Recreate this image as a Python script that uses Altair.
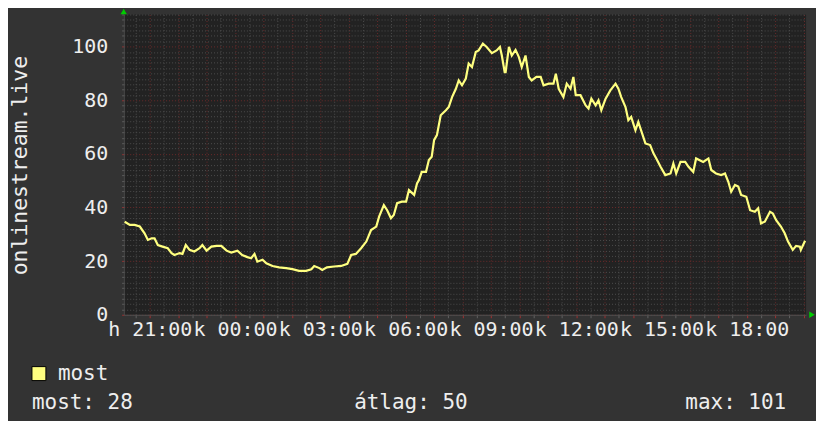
import altair as alt
import pandas as pd

# elapsed minutes since the start of the window (Monday 20:05) and viewer counts
minutes = [2, 13, 23, 34, 44, 51, 59, 65, 72, 82, 93, 101, 107, 118, 124, 131, 139, 149, 160, 166,
           175, 185, 196, 206, 217, 227, 240, 250, 261, 269, 276, 282, 293, 301, 314, 328, 343, 356, 370, 385,
           396, 402, 413, 419, 429, 444, 459, 472, 480, 490, 501, 512, 522, 533, 539, 549, 556, 564, 570, 577,
           587, 596, 602, 613, 619,
           623, 629, 638, 644, 650, 655, 661, 669, 680, 686, 693, 701, 707, 714, 722, 728, 735, 743, 749, 758,
           766, 777, 787, 794, 798, 804, 806, 813, 819, 827, 834, 840, 848, 855, 861, 871, 880, 886, 897, 907,
           912, 918, 928, 935, 943, 949, 954, 964, 975, 981, 987, 996, 1002, 1008, 1017, 1027, 1038, 1044, 1050, 1059,
           1065, 1071, 1080, 1086, 1093, 1101, 1111, 1118, 1124, 1133, 1143, 1154, 1160, 1166, 1175, 1185, 1192, 1202, 1208, 1223,
           1234, 1240, 1250, 1261, 1269, 1276, 1282, 1290, 1297, 1303, 1314, 1322, 1332, 1339, 1345, 1353, 1364, 1370, 1377, 1387,
           1395, 1402, 1412, 1419, 1427, 1429, 1438]
values = [34.7, 33.5, 33.5, 32.9, 30.4, 27.9, 28.5, 28.5, 26, 25.4, 24.8, 23, 22.3, 23, 22.7, 26, 24.2, 23.6, 24.8, 26,
          23.9, 25.4, 25.7, 25.7, 23.9, 23.2, 23.9, 22.3, 21.5, 21.1, 22.7, 19.8, 20.5, 19.2, 18.2, 17.7, 17.4, 17, 16.4, 16.4,
          17, 18.2, 17.4, 16.7, 17.7, 18, 18.2, 19, 22.3, 22.7, 24.8, 27.3, 31.6, 32.9, 36.6, 40.9, 39, 36, 37.2, 41.6,
          42.2, 42.2, 46.5, 44.7, 49,
          50.2, 53.3, 53.3, 57.7, 58.9, 65.1, 67, 74.4, 76.3, 77.5, 81.2, 84.3, 87.4, 85.6, 88.1, 93.7, 92.4, 98, 98.6, 101.1,
          99.9, 97.6, 98.6, 99.9, 96.7, 90.5, 90.5, 99.9, 96.7, 98.8, 96.1, 92.4, 96.7, 88.7, 87.4, 88.7, 88.7, 85.6, 86.2, 86.2,
          89.9, 84.3, 81.2, 86.2, 84.3, 88.7, 81.9, 81.9, 78.1, 76.9, 80.6, 78.1, 80, 76.3, 80.6, 83.7, 86.2, 84.3, 81.2, 77.5,
          72.6, 73.8, 68.8, 71.9, 68.2, 63.9, 63.3, 60.2, 58.3, 55.2, 52.1, 52.7, 56.4, 52.7, 57, 57, 55.2, 53.3, 58.3, 57,
          58.3, 54, 52.7, 52.1, 52.7, 49.6, 45.9, 48.4, 47.8, 44.7, 44, 39, 38.4, 39.7, 34.1, 34.7, 38.4, 37.8, 35.3, 32.9,
          30.4, 27.3, 24.2, 25.7, 25.4, 24.2, 27.6]

series_name = "most"
y_title = "onlinestream.live"
stat_labels = ["most", "átlag", "max"]
stat_values = [28, 50, 101]

START_H = 20 + 5 / 60
df = pd.DataFrame({"h": [START_H + m / 60 for m in minutes], "v": values})

FONT = "DejaVu Sans Mono"
TXT = "#eeeeee"
RED = "#6a2a2a"
GRAY = "#4c4c4c"
x_vals = [20 + 0.5 * i for i in range(0, 50) if START_H <= 20 + 0.5 * i <= START_H + 24]
y_vals = list(range(0, 113, 2))

x_axis = alt.Axis(
    values=x_vals, title=None,
    labelExpr="datum.value % 3 == 0 ? (datum.value < 24 ? 'h ' : 'k ') + format(datum.value % 24, '02d') + ':00' : ''",
    labelFont=FONT, labelFontSize=20, labelColor=TXT, labelOverlap=False, labelFlush=False, labelBound=False,
    labelPadding=2,
    grid=True, gridDash=[1, 2], gridWidth=1,
    gridColor={"condition": {"test": "datum.value % 1 == 0", "value": RED}, "value": GRAY},
    ticks=True, tickSize=3,
    tickColor={"condition": {"test": "datum.value % 1 == 0", "value": "#a03030"}, "value": "#606060"},
    domain=True, domainColor="#505050",
)
y_axis = alt.Axis(
    values=y_vals, title=y_title,
    labelExpr="datum.value % 20 == 0 ? datum.label : ''",
    labelFont=FONT, labelFontSize=20, labelColor=TXT, labelPadding=14, labelOverlap=False,
    labelFlush=False, labelBound=False,
    grid=True, gridDash=[1, 2], gridWidth=1,
    gridColor={"condition": {"test": "datum.value % 20 == 0", "value": RED}, "value": GRAY},
    ticks=True, tickSize=2,
    tickColor={"condition": {"test": "datum.value % 20 == 0", "value": "#a03030"}, "value": "#606060"},
    domain=True, domainColor="#505050",
    titleFont=FONT, titleFontSize=21.5, titleFontWeight="normal", titleColor=TXT,
    titleX=-103, titleY=151, titleAngle=270, titleAlign="center", titleBaseline="middle",
)

line = alt.Chart(df).mark_line(color="#ffff80", strokeWidth=2.2, clip=True).encode(
    x=alt.X("h:Q", scale=alt.Scale(domain=[START_H, START_H + 24], nice=False, zero=False), axis=x_axis),
    y=alt.Y("v:Q", scale=alt.Scale(domain=[0, 112], nice=False), axis=y_axis),
)

one = alt.Data(values=[{}])


def txt(s, x, y, size=21, align="left"):
    return alt.Chart(one).mark_text(font=FONT, fontSize=size, color=TXT, align=align, baseline="middle").encode(
        x=alt.value(x), y=alt.value(y), text=alt.value(s))


arrow_up = alt.Chart(one).mark_point(shape="triangle-up", filled=True, color="#00cc00", size=40, opacity=1).encode(
    x=alt.value(0), y=alt.value(-3))
arrow_right = alt.Chart(one).mark_point(shape="triangle-right", filled=True, color="#00cc00", size=40, opacity=1).encode(
    x=alt.value(690), y=alt.value(301))
swatch = alt.Chart(one).mark_square(size=196, color="#ffff80", stroke="#000000", strokeWidth=1, opacity=1).encode(
    x=alt.value(-85), y=alt.value(360))

chart = alt.layer(
    line, arrow_up, arrow_right, swatch,
    txt(series_name, -66, 360),
    txt(f"{stat_labels[0]}: {stat_values[0]}", -92, 389),
    txt(f"{stat_labels[1]}: {stat_values[1]}", 231, 389),
    txt(f"{stat_labels[2]}: {stat_values[2]}", 563, 389),
).properties(
    width=684, height=301,
    autosize=alt.AutoSizeParams(type="none"),
    padding={"left": 116, "top": 6, "right": 10, "bottom": 106},
    background="#333333",
).configure_view(fill="#222222", stroke=None)

chart.save("out.html", embed_options={"renderer": "svg", "actions": False})
